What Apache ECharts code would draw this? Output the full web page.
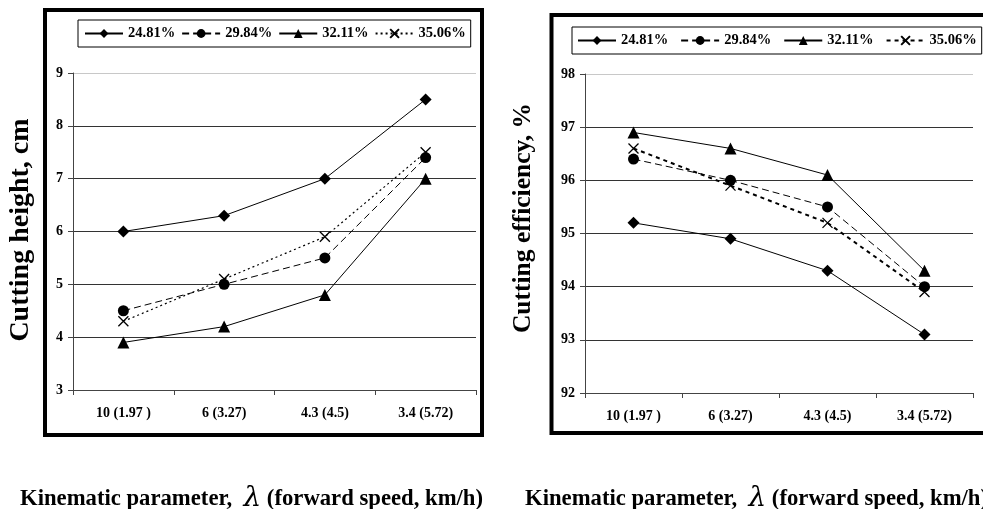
<!DOCTYPE html>
<html>
<head>
<meta charset="utf-8">
<script src="https://cdn.jsdelivr.net/npm/echarts@6/dist/echarts.min.js"></script>
<style>
  html, body { margin: 0; padding: 0; background: #fff; }
  #wrap { position: relative; width: 983px; height: 509px; overflow: hidden; }
  #heightChart { position: absolute; left: 0; top: 0; width: 500px; height: 509px; }
  #effChart { position: absolute; left: 500px; top: 0; width: 483px; height: 509px; }
</style>
</head>
<body>
<div id="wrap">
  <div id="heightChart"></div>
  <div id="effChart"></div>
</div>
<script>
// Kinematic parameter λ (forward speed, km/h)
const categories = ['10 (1.97 )', '6 (3.27)', '4.3 (4.5)', '3.4 (5.72)'];
const moistureLevels = ['24.81%', '29.84%', '32.11%', '35.06%'];

// Cutting height, cm
const heightM1 = [6.0, 6.3, 7.0, 8.5];
const heightM2 = [4.5, 5.0, 5.5, 7.4];
const heightM3 = [3.9, 4.2, 4.8, 7.0];
const heightM4 = [4.3, 5.1, 5.9, 7.5];

// Cutting efficiency, %
const effM1 = [95.2, 94.9, 94.3, 93.1];
const effM2 = [96.4, 96.0, 95.5, 94.0];
const effM3 = [96.9, 96.6, 96.1, 94.3];
const effM4 = [96.6, 95.9, 95.2, 93.9];

const FONT = '"Liberation Serif", "Times New Roman", serif';
const CROSS = 'path://M0,0L10,10M10,0L0,10';

function makeSeries(values, lineStyles) {
  const symbols = ['diamond', 'circle', 'triangle', CROSS];
  const sizes = [12, 11, 12, 10];
  return values.map((data, i) => {
    const cross = i === 3;
    return {
      name: moistureLevels[i],
      type: 'line',
      data: data,
      symbol: symbols[i],
      symbolSize: sizes[i],
      showAllSymbol: true,
      lineStyle: Object.assign({ color: '#000', width: 1 }, lineStyles[i]),
      itemStyle: cross
        ? { color: 'rgba(0,0,0,0)', borderColor: '#000', borderWidth: 1.3 }
        : { color: '#000', borderWidth: 0 },
      emphasis: { disabled: true },
      animation: false,
      z: 3
    };
  });
}

function makeOption(cfg) {
  const gridLineColors = [];
  for (let v = cfg.min; v <= cfg.max; v++) {
    gridLineColors.push(v === cfg.max ? '#c8c8c8' : '#333');
  }
  return {
    animation: false,
    textStyle: { fontFamily: FONT },
    grid: cfg.grid,
    legend: {
      data: moistureLevels,
      left: cfg.legend.left,
      top: cfg.legend.top,
      width: 460,
      padding: cfg.legend.padding,
      itemGap: cfg.legend.itemGap,
      itemWidth: 38,
      itemHeight: 11,
      borderColor: '#000',
      borderWidth: 1,
      selectedMode: false,
      textStyle: { fontFamily: FONT, fontWeight: 'bold', fontSize: 14.5, color: '#000' }
    },
    xAxis: {
      type: 'category',
      data: categories,
      boundaryGap: true,
      axisLine: { lineStyle: { color: '#444', width: 1 } },
      axisTick: { show: true, length: 5, inside: false, lineStyle: { color: '#444' } },
      axisLabel: { fontFamily: FONT, fontWeight: 'bold', fontSize: 14, color: '#000', margin: 16 },
      splitLine: { show: false }
    },
    yAxis: {
      type: 'value',
      min: cfg.min,
      max: cfg.max,
      interval: 1,
      axisLine: { show: true, lineStyle: { color: '#444', width: 1 } },
      axisTick: { show: true, length: 5, inside: false, lineStyle: { color: '#444' } },
      axisLabel: { fontFamily: FONT, fontWeight: 'bold', fontSize: 14, color: '#000', margin: 10 },
      splitLine: { show: true, lineStyle: { color: gridLineColors, width: 1 } }
    },
    graphic: [
      {
        type: 'rect',
        shape: cfg.frame,
        style: { fill: 'none', stroke: '#000', lineWidth: 4 },
        silent: true,
        z: 0
      },
      {
        type: 'text',
        x: cfg.yTitle.x,
        y: cfg.yTitle.y,
        rotation: Math.PI / 2,
        style: {
          text: cfg.yTitle.text,
          font: 'bold ' + cfg.yTitle.size + 'px ' + FONT,
          fill: '#000',
          align: 'center',
          verticalAlign: 'middle'
        },
        silent: true
      },
      {
        type: 'text',
        x: cfg.xTitle.x,
        y: cfg.xTitle.y,
        style: {
          text: '{t|Kinematic parameter,  }{l|λ}{t| (forward speed, km/h)}',
          rich: {
            t: { font: 'bold 22.7px ' + FONT, fill: '#000' },
            l: { font: 'italic 28px "DejaVu Serif", ' + FONT, fill: '#000' }
          },
          align: 'left',
          verticalAlign: 'middle'
        },
        silent: true
      }
    ],
    series: makeSeries(cfg.values, cfg.lineStyles)
  };
}

const heightChart = echarts.init(document.getElementById('heightChart'), null, { renderer: 'canvas' });
heightChart.setOption(makeOption({
  min: 3, max: 9,
  grid: { left: 73, top: 73, width: 403, height: 317 },
  legend: { left: 78, top: 20, itemGap: 6, padding: [6, 5, 6, 6] },
  frame: { x: 45, y: 10, width: 437, height: 425 },
  yTitle: { x: 21, y: 230, size: 28, text: 'Cutting height, cm' },
  xTitle: { x: 20, y: 499 },
  values: [heightM1, heightM2, heightM3, heightM4],
  lineStyles: [
    { type: 'solid' },
    { type: [7, 4] },
    { type: 'solid' },
    { type: [2, 3], width: 1.2 }
  ]
}));

const effChart = echarts.init(document.getElementById('effChart'), null, { renderer: 'canvas' });
effChart.setOption(makeOption({
  min: 92, max: 98,
  grid: { left: 85, top: 74, width: 388, height: 319 },
  legend: { left: 72, top: 27, itemGap: 12, padding: [6, 5, 6, 5] },
  frame: { x: 51.5, y: 15, width: 520, height: 418 },
  yTitle: { x: 23, y: 218, size: 25.5, text: 'Cutting efficiency, %' },
  xTitle: { x: 25, y: 499 },
  values: [effM1, effM2, effM3, effM4],
  lineStyles: [
    { type: 'solid' },
    { type: [7, 4] },
    { type: 'solid' },
    { type: [4, 4], width: 2 }
  ]
}));
</script>
</body>
</html>
